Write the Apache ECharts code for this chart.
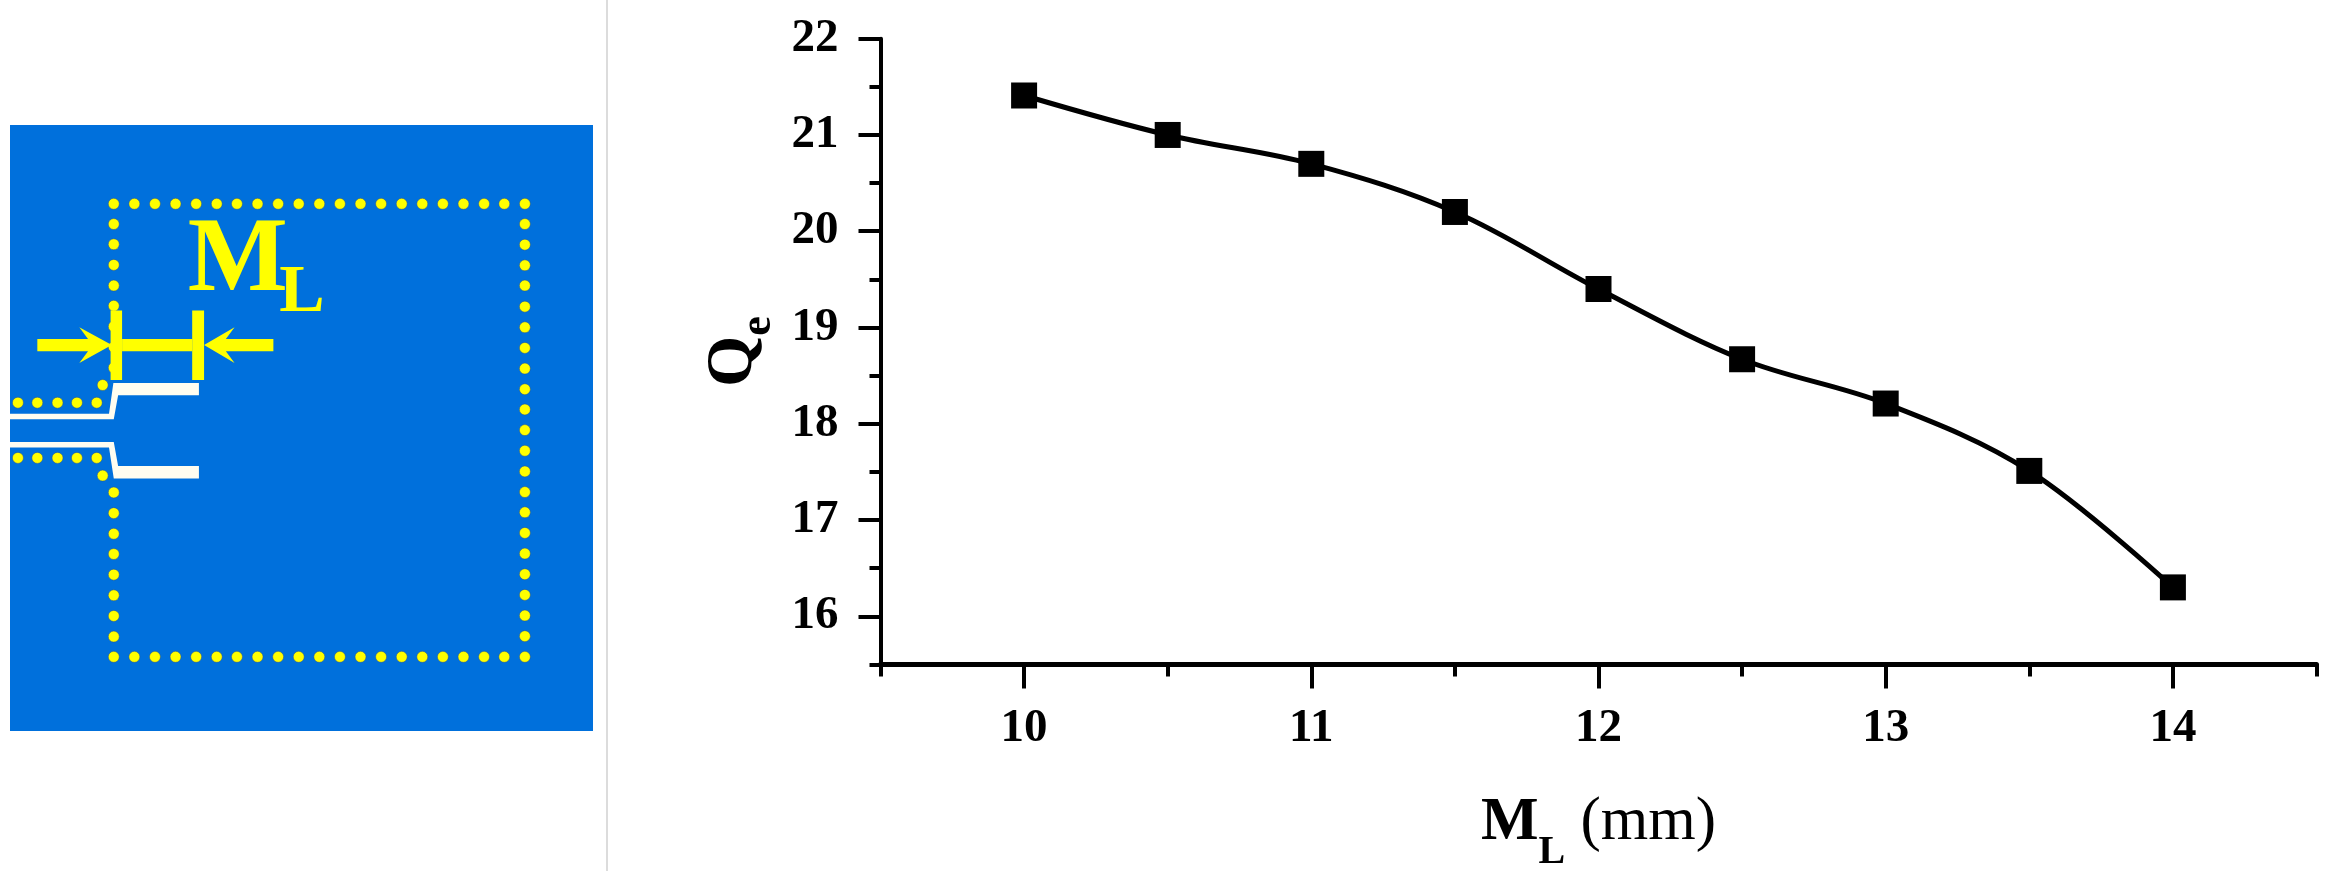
<!DOCTYPE html>
<html lang="en">
<head>
<meta charset="UTF-8">
<title>Qe vs ML</title>
<script src="https://cdn.jsdelivr.net/npm/echarts@6/dist/echarts.min.js"></script>
<style>html,body{margin:0;background:#fff}#main{width:2336px;height:871px}</style>
</head>
<body>
<div id="main"></div>
<script>
// curve data
var mlValues = [10, 10.5, 11, 11.5, 12, 12.5, 13, 13.5, 14];
var qeValues = [21.41, 21.0, 20.7, 20.2, 19.4, 18.67, 18.21, 17.51, 16.3];
var xMajorTicks = [10, 11, 12, 13, 14];
var xMinorTicks = [9.5, 10.5, 11.5, 12.5, 13.5, 14.5];
var yMajorTicks = [16, 17, 18, 19, 20, 21, 22];
var yMinorTicks = [15.5, 16.5, 17.5, 18.5, 19.5, 20.5, 21.5];

// layout schematic, in its own picture units
var viaRowX = [290, 342, 394, 446, 498, 550, 601, 653, 705, 757, 809, 861, 913, 965, 1017, 1069, 1121, 1173, 1225, 1276, 1328];
var viaColY = [295, 344, 393, 441, 491, 540, 589, 638, 687, 735, 784, 833, 882, 931, 979, 1028, 1077, 1126, 1175, 1224, 1273];
var viaLeftY = [295, 343, 392, 441, 489, 538, 587, 636, 932, 981, 1030, 1078, 1127, 1176, 1225, 1274];
var viaFeedX = [48, 97, 148, 197, 247];
var viaFeedY = [719, 850];
var viaCorners = [[262, 677], [262, 892]];
var feedTop = [[28, 745], [278, 745], [289, 672], [505, 672], [505, 701], [301, 701], [290, 758], [28, 758]];
var feedBottom = [[28, 812], [290, 812], [301, 869], [505, 869], [505, 899], [290, 899], [278, 825], [28, 825]];
var markerShapes = [
    [[97, 568], [225, 568], [203, 540], [285, 582], [203, 625], [225, 597], [97, 597]],
    [[693, 568], [573, 568], [595, 540], [518, 582], [595, 625], [573, 597], [693, 597]],
    [[311, 568], [488, 568], [488, 597], [311, 597]],
    [[282, 500], [311, 500], [311, 665], [282, 665]],
    [[488, 500], [518, 500], [518, 665], [488, 665]]
];
var labelM = [603, 386];
var labelL = [765, 460];

var viaPoints = [];
viaRowX.forEach(function (x) { viaPoints.push([x, 247], [x, 1322]); });
viaColY.forEach(function (y) { viaPoints.push([1328, y]); });
viaLeftY.forEach(function (y) { viaPoints.push([290, y]); });
viaFeedX.forEach(function (x) {
    viaFeedY.forEach(function (y) { viaPoints.push([x, y]); });
});
viaPoints = viaPoints.concat(viaCorners);

function polygonSeries(shapes, color, z) {
    return {
        type: 'custom', xAxisIndex: 2, yAxisIndex: 2, z: z, silent: true,
        coordinateSystem: 'cartesian2d',
        data: shapes.map(function (s, i) { return [s[0][0], s[0][1], i]; }),
        renderItem: function (params, api) {
            var pts = shapes[api.value(2)].map(function (p) { return api.coord(p); });
            return { type: 'polygon', shape: { points: pts }, style: { fill: color } };
        }
    };
}

function textSeries(point, text, size) {
    return {
        type: 'scatter', xAxisIndex: 2, yAxisIndex: 2, z: 8, silent: true,
        symbolSize: 0, data: [point], itemStyle: { opacity: 1 },
        label: {
            show: true, position: 'inside', formatter: text, color: '#ffff00', textBorderWidth: 0,
            fontFamily: 'Liberation Serif', fontWeight: 'bold', fontSize: size
        }
    };
}

var serif = 'Liberation Serif';
var chart = echarts.init(document.getElementById('main'));
chart.setOption({
    animation: false,
    backgroundColor: '#fff',
    grid: [
        { left: 880.5, top: 38.7, width: 1436, height: 625.7, outerBoundsMode: 'none' },
        { left: 880.5, top: 38.7, width: 1436, height: 625.7, outerBoundsMode: 'none' },
        { left: 10, top: 125, width: 583, height: 606, show: true, backgroundColor: '#0070dc', borderWidth: 0, outerBoundsMode: 'none' }
    ],
    xAxis: [
        {
            gridIndex: 0, type: 'value', min: 9.5, max: 14.5, splitLine: { show: false },
            name: '{b|M}{s|L}{r| (mm)}', nameLocation: 'middle', nameGap: 128,
            nameTextStyle: { rich: {
                b: { fontFamily: serif, fontWeight: 'bold', fontSize: 61, lineHeight: 80, verticalAlign: 'top', color: '#000' },
                s: { fontFamily: serif, fontWeight: 'bold', fontSize: 40, lineHeight: 80, verticalAlign: 'bottom', color: '#000' },
                r: { fontFamily: serif, fontSize: 61, lineHeight: 80, verticalAlign: 'top', color: '#000' }
            } },
            axisLine: { onZero: false, lineStyle: { color: '#000', width: 5 } },
            axisTick: { length: 24, customValues: xMajorTicks, lineStyle: { color: '#000', width: 4 } },
            axisLabel: { customValues: xMajorTicks, margin: 41, color: '#000', fontFamily: serif, fontWeight: 'bold', fontSize: 47 }
        },
        {
            gridIndex: 1, type: 'value', min: 9.5, max: 14.5, splitLine: { show: false },
            axisLine: { show: false },
            axisTick: { length: 12, customValues: xMinorTicks, lineStyle: { color: '#000', width: 4 } },
            axisLabel: { show: false }
        },
        { gridIndex: 2, type: 'value', min: 28, max: 1500, show: false }
    ],
    yAxis: [
        {
            gridIndex: 0, type: 'value', min: 15.5, max: 22, splitLine: { show: false },
            name: '{b|Q}{s|e}', nameLocation: 'middle', nameGap: 89, nameRotate: 90,
            nameTextStyle: { rich: {
                b: { fontFamily: serif, fontWeight: 'bold', fontSize: 66, lineHeight: 80, verticalAlign: 'top', color: '#000' },
                s: { fontFamily: serif, fontWeight: 'bold', fontSize: 44, lineHeight: 80, verticalAlign: 'bottom', color: '#000' }
            } },
            axisLine: { onZero: false, lineStyle: { color: '#000', width: 4 } },
            axisTick: { length: 22, customValues: yMajorTicks, lineStyle: { color: '#000', width: 4 } },
            axisLabel: { customValues: yMajorTicks, margin: 42, color: '#000', fontFamily: serif, fontWeight: 'bold', fontSize: 47 }
        },
        {
            gridIndex: 1, type: 'value', min: 15.5, max: 22, splitLine: { show: false },
            axisLine: { show: false },
            axisTick: { length: 11, customValues: yMinorTicks, lineStyle: { color: '#000', width: 4 } },
            axisLabel: { show: false }
        },
        { gridIndex: 2, type: 'value', min: 60, max: 1498, inverse: true, show: false }
    ],
    graphic: [{
        type: 'rect', left: 606, top: 0, silent: true,
        shape: { width: 2, height: 871 }, style: { fill: '#dcdcdc' }
    }],
    series: [
        {
            type: 'line', xAxisIndex: 0, yAxisIndex: 0, z: 5,
            data: mlValues.map(function (x, i) { return [x, qeValues[i]]; }),
            smooth: 0.35, symbol: 'rect', symbolSize: 26, showAllSymbol: true,
            lineStyle: { color: '#000', width: 5 }, itemStyle: { color: '#000' }
        },
        {
            type: 'scatter', xAxisIndex: 2, yAxisIndex: 2, z: 3, silent: true,
            data: viaPoints, symbol: 'circle', symbolSize: 11,
            itemStyle: { color: '#ffff00', opacity: 1, borderColor: '#27518c', borderWidth: 0.5 }
        },
        polygonSeries([feedTop, feedBottom], '#fffdf0', 4),
        polygonSeries(markerShapes, '#ffff00', 6),
        textSeries(labelM, 'M', 106),
        textSeries(labelL, 'L', 68)
    ]
});
</script>
</body>
</html>
